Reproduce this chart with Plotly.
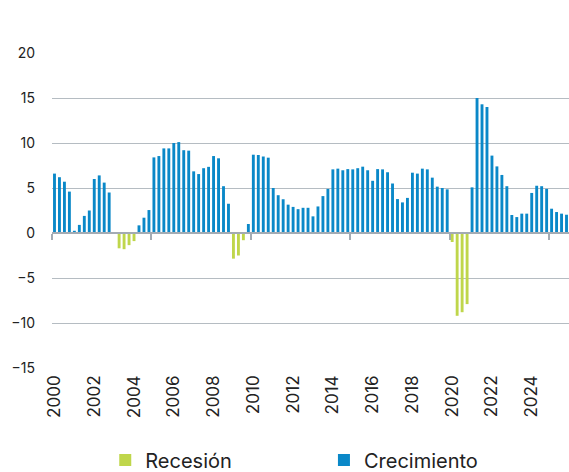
import plotly.graph_objects as go

years = list(range(2000, 2026))
quarters = [f"{y}T{q}" for y in years for q in range(1, 5)]

recesion = [None] * 104
crecimiento = [
    6.6, 6.2, 5.7, 4.6, 0.25, 0.9, 1.9, 2.5, 6.0, 6.4, 5.6, 4.5,
    None, None, None, None, None, 0.85, 1.7, 2.55,
    8.4, 8.55, 9.4, 9.4, 10.0, 10.1, 9.2, 9.15, 6.85, 6.55, 7.2, 7.35,
    8.55, 8.3, 5.2, 3.25, None, None, None, 1.0,
    8.7, 8.67, 8.5, 8.37, 5.0, 4.2, 3.75, 3.15, 2.9, 2.65, 2.8, 2.8,
    1.85, 2.95, 4.1, 4.9, 7.07, 7.15, 6.97, 7.1, 7.07, 7.2, 7.37, 6.97,
    5.8, 7.1, 7.07, 6.75, 5.5, 3.77, 3.4, 3.9, 6.7, 6.6, 7.15, 7.07,
    6.15, 5.15, 5.0, 4.85, None, None, None, None,
    5.07, 15.0, 14.3, 14.0, 8.6, 7.4, 6.45, 5.2, 2.0, 1.77, 2.15, 2.15,
    4.45, 5.25, 5.2, 4.9, 2.7, 2.33, 2.15, 2.03,
]
recesion_points = {13: -1.7, 14: -1.8, 15: -1.35, 16: -0.9,
                   36: -2.85, 37: -2.5, 38: -0.8,
                   80: -1.0, 81: -9.2, 82: -8.8, 83: -7.9}
for k, v in recesion_points.items():
    recesion[k] = v

tick_years = [str(y) for y in range(2000, 2025, 2)]
tick_cats = [f"{y}T1" for y in range(2000, 2025, 2)]
y_ticks = [-15, -10, -5, 0, 5, 10, 15, 20]

FONT = "Inter"
GREEN = "#bfd64b"
BLUE = "#0a88c8"
GRID = "#b5bcc2"

fig = go.Figure()
fig.add_trace(go.Bar(x=quarters, y=recesion, name="Recesión", legend="legend",
                     marker=dict(color=GREEN, line=dict(width=0)), width=0.58))
fig.add_trace(go.Bar(x=quarters, y=crecimiento, name="Crecimiento", legend="legend2",
                     marker=dict(color=BLUE, line=dict(width=0)), width=0.58))
fig.add_trace(go.Scatter(x=[-0.5, 103.5], y=[0, 0], xaxis="x2", mode="lines",
                         line=dict(width=0), showlegend=False, hoverinfo="skip"))

legend_common = dict(orientation="h", yanchor="middle", y=-0.292, xanchor="left",
                     font=dict(size=20, family=FONT, color="#222"),
                     bgcolor="rgba(0,0,0,0)", itemsizing="constant")

fig.update_layout(
    width=569, height=472,
    margin=dict(l=52, r=0, t=53, b=104, autoexpand=False),
    paper_bgcolor="white", plot_bgcolor="white",
    barmode="relative",
    font=dict(family=FONT, color="#222222"),
    xaxis=dict(type="category", categoryorder="array", categoryarray=quarters,
               tickmode="array", tickvals=tick_cats, ticktext=tick_years,
               tickangle=-90, tickfont=dict(size=17, family=FONT, color="#222"),
               showgrid=False, showline=False, ticks="", zeroline=False,
               range=[-0.5, 103.5], automargin=False, ticklabelstandoff=3),
    xaxis2=dict(overlaying="x", anchor="free", position=15 / 35,
                range=[-0.5, 103.5], showgrid=False, zeroline=False,
                showline=True, linecolor="#a3abb3", linewidth=2,
                ticks="outside", ticklen=6, tickwidth=2, tickcolor="#a3abb3",
                tickmode="array", tickvals=[-0.5, 19.5, 39.5, 59.5, 79.5, 99.5],
                showticklabels=False, automargin=False),
    yaxis=dict(range=[-15, 20], tickvals=y_ticks,
               ticktext=[str(v).replace("-", "−") for v in y_ticks],
               showgrid=True, gridcolor=GRID, gridwidth=1, zeroline=False,
               tickfont=dict(size=14, family=FONT, color="#222"),
               ticks="", ticklabelstandoff=16, automargin=False),
    legend=dict(x=0.103, **legend_common),
    legend2=dict(x=0.526, **legend_common),
    showlegend=True,
)

fig.write_html("out.html", config={"displayModeBar": False},
               post_script="document.body.style.margin='0';document.body.style.overflow='hidden';")
